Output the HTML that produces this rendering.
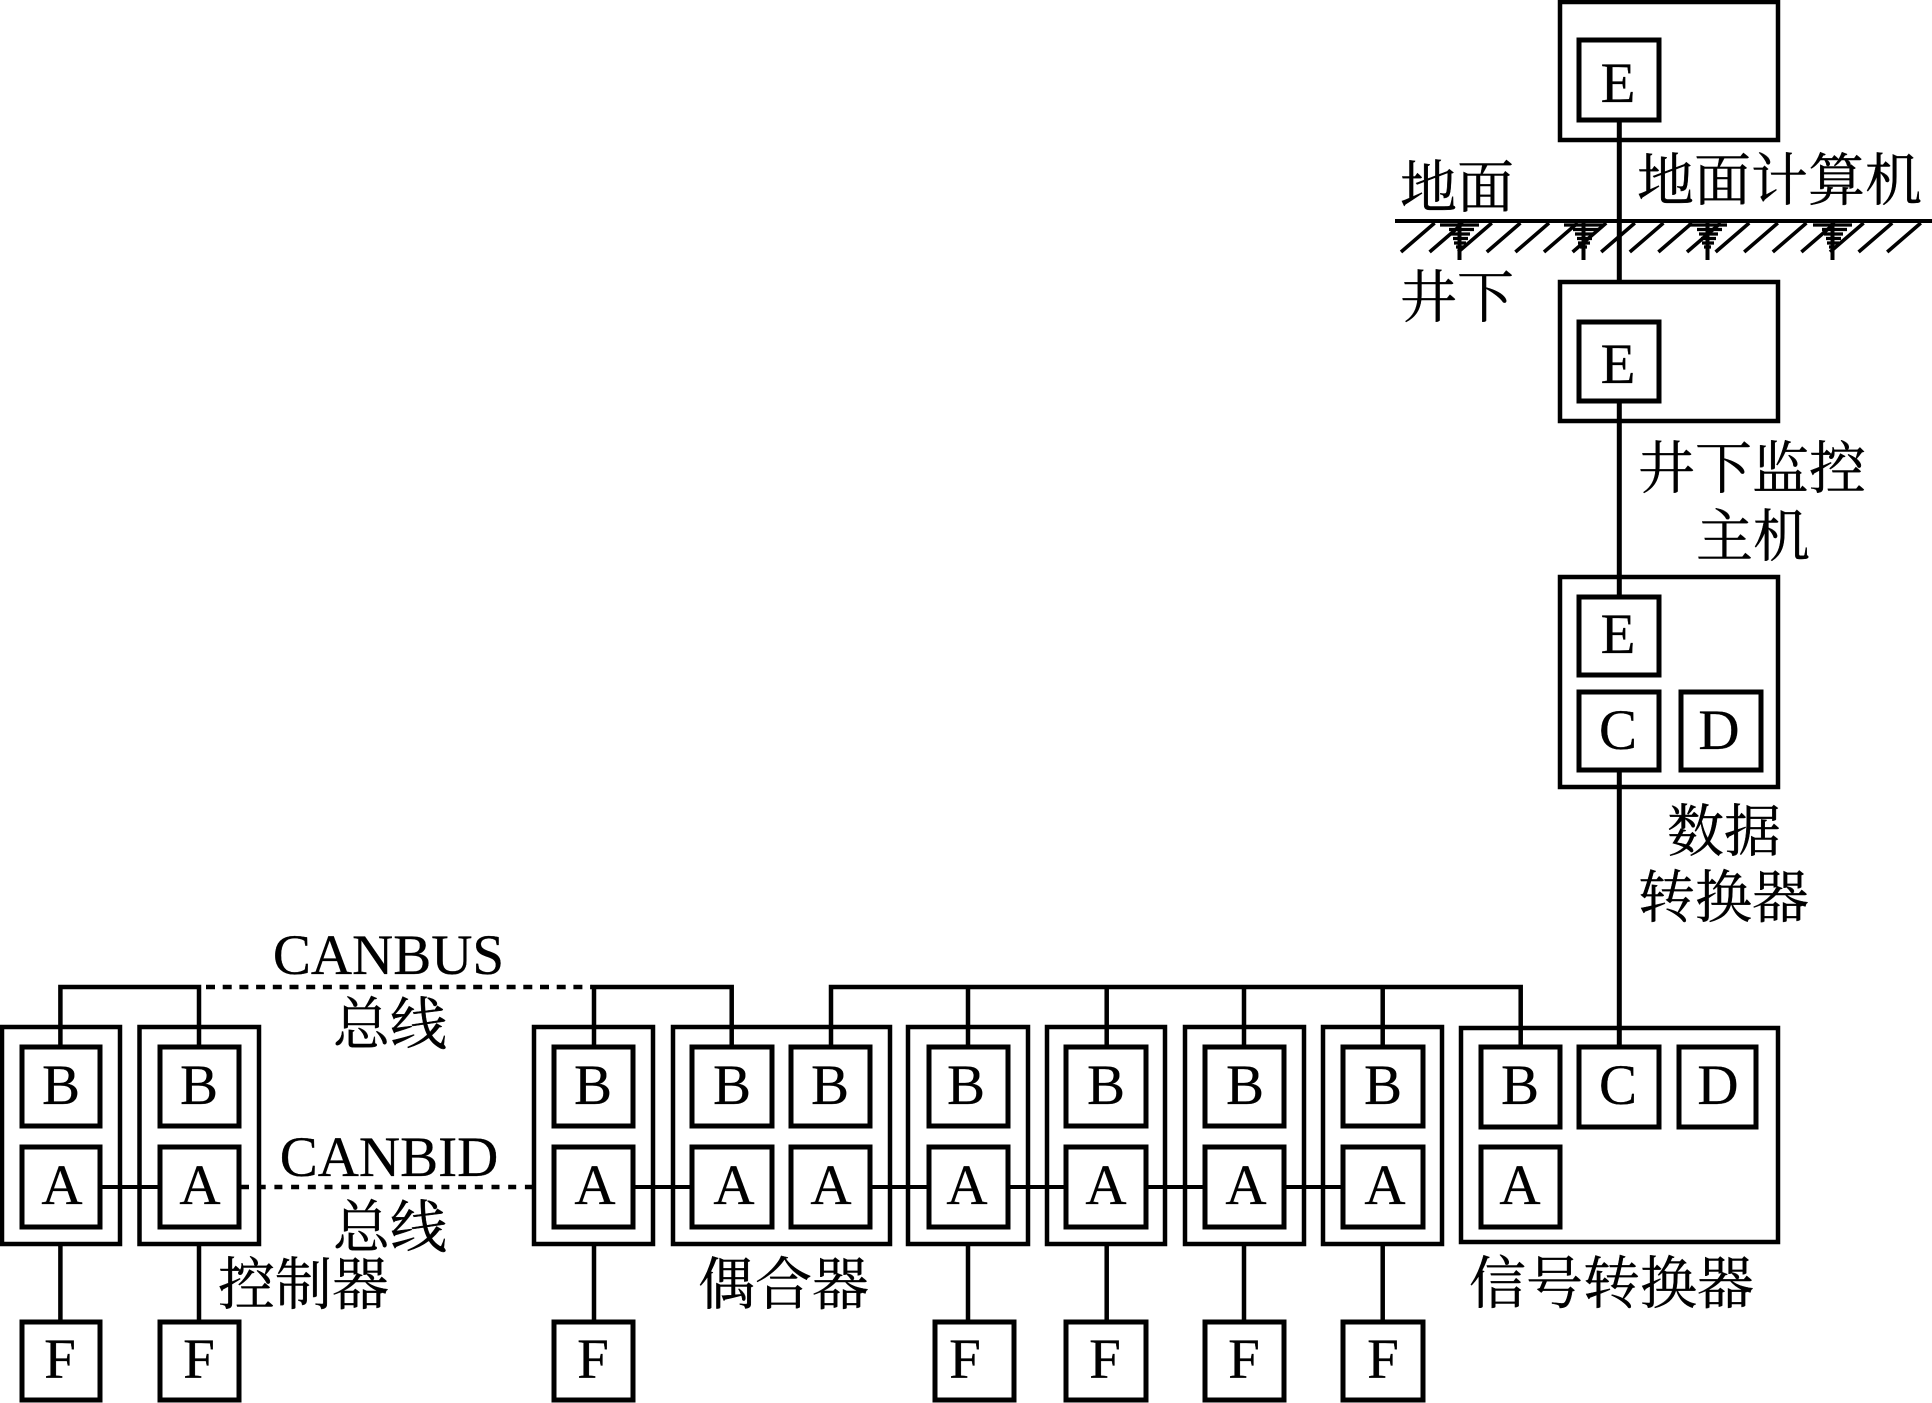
<!DOCTYPE html>
<html lang="zh">
<head>
<meta charset="utf-8">
<title>CAN bus diagram</title>
<style>
html,body{margin:0;padding:0;background:#fff;width:1932px;height:1403px;overflow:hidden}
svg{display:block}
.l{font-family:"Liberation Serif",serif;font-size:57px;text-anchor:middle;fill:#000;stroke:#000;stroke-width:.3}
.z{font-family:"Liberation Serif","Noto Serif CJK SC",serif;font-size:57px;fill:#000;stroke:#000;stroke-width:.4}
.b{fill:none;stroke:#000;stroke-width:4.5}
.c{fill:none;stroke:#000;stroke-width:5}
</style>
</head>
<body>
<svg xmlns="http://www.w3.org/2000/svg" width="1932" height="1403" viewBox="0 0 1932 1403">
<rect width="1932" height="1403" fill="#fff"/>

<!-- ground -->
<path fill="none" stroke="#000" stroke-width="4" d="M1395 221H1932"/>
<path fill="none" stroke="#000" stroke-width="3.6" d="M1401 252L1434.6 223M1429.6 252L1463.2 223M1458.2 252L1491.8 223M1486.8 252L1520.4 223M1515.4 252L1549 223M1544 252L1577.6 223M1572.6 252L1606.2 223M1601.2 252L1634.8 223M1629.8 252L1663.4 223M1658.4 252L1692 223M1687 252L1720.6 223M1715.6 252L1749.2 223M1744.2 252L1777.8 223M1772.8 252L1806.4 223M1801.4 252L1835 223M1830 252L1863.6 223M1858.6 252L1892.2 223M1887.2 252L1920.8 223"/>
<path fill="none" stroke="#000" stroke-width="3.2" d="M1440 225H1479M1449 229.5H1474M1451 234H1470M1453 238.5H1468M1454 243H1466M1456 247H1463"/>
<path fill="none" stroke="#000" stroke-width="4" d="M1459.5 223V260"/>
<g transform="translate(124 0)">
<path fill="none" stroke="#000" stroke-width="3.2" d="M1440 225H1479M1449 229.5H1474M1451 234H1470M1453 238.5H1468M1454 243H1466M1456 247H1463"/>
<path fill="none" stroke="#000" stroke-width="4" d="M1459.5 223V260"/>
</g>
<g transform="translate(248 0)">
<path fill="none" stroke="#000" stroke-width="3.2" d="M1440 225H1479M1449 229.5H1474M1451 234H1470M1453 238.5H1468M1454 243H1466M1456 247H1463"/>
<path fill="none" stroke="#000" stroke-width="4" d="M1459.5 223V260"/>
</g>
<g transform="translate(373 0)">
<path fill="none" stroke="#000" stroke-width="3.2" d="M1440 225H1479M1449 229.5H1474M1451 234H1470M1453 238.5H1468M1454 243H1466M1456 247H1463"/>
<path fill="none" stroke="#000" stroke-width="4" d="M1459.5 223V260"/>
</g>

<!-- right column boxes -->
<rect class="b" x="1560" y="2" width="218" height="138"/>
<rect class="c" x="1579" y="40" width="80" height="80"/>
<rect class="b" x="1560" y="282" width="218" height="139"/>
<rect class="c" x="1579" y="322" width="80" height="79"/>
<rect class="b" x="1560" y="577" width="218" height="210"/>
<rect class="c" x="1579" y="597" width="80" height="78"/>
<rect class="c" x="1579" y="692" width="80" height="78"/>
<rect class="c" x="1681" y="692" width="80" height="78"/>

<!-- vertical trunk -->
<path fill="none" stroke="#000" stroke-width="5" d="M1619.3 122V280M1619.3 403V595M1619.3 772V1045"/>

<!-- bottom outer boxes -->
<rect class="b" x="2" y="1027" width="118" height="217"/>
<rect class="b" x="139.5" y="1027" width="119.5" height="217"/>
<rect class="b" x="534" y="1027" width="119" height="217"/>
<rect class="b" x="673" y="1027" width="217" height="217"/>
<rect class="b" x="908" y="1027" width="120" height="217"/>
<rect class="b" x="1047" y="1027" width="118" height="217"/>
<rect class="b" x="1185" y="1027" width="119" height="217"/>
<rect class="b" x="1323" y="1027" width="119" height="217"/>
<rect class="b" x="1461" y="1028" width="317" height="214"/>

<!-- B boxes -->
<rect class="c" x="22" y="1047" width="78" height="79"/>
<rect class="c" x="160" y="1047" width="79" height="79"/>
<rect class="c" x="554" y="1047" width="79" height="79"/>
<rect class="c" x="692" y="1047" width="80" height="79"/>
<rect class="c" x="791" y="1047" width="79" height="79"/>
<rect class="c" x="929" y="1047" width="79" height="79"/>
<rect class="c" x="1066" y="1047" width="80" height="79"/>
<rect class="c" x="1205" y="1047" width="79" height="79"/>
<rect class="c" x="1343" y="1047" width="80" height="79"/>
<rect class="c" x="1481" y="1047" width="79" height="80"/>
<rect class="c" x="1579" y="1047" width="80" height="80"/>
<rect class="c" x="1679" y="1047" width="77" height="80"/>

<!-- A boxes -->
<rect class="c" x="22" y="1147" width="78" height="80"/>
<rect class="c" x="160" y="1147" width="79" height="80"/>
<rect class="c" x="554" y="1147" width="79" height="80"/>
<rect class="c" x="692" y="1147" width="80" height="80"/>
<rect class="c" x="791" y="1147" width="79" height="80"/>
<rect class="c" x="929" y="1147" width="79" height="80"/>
<rect class="c" x="1066" y="1147" width="80" height="80"/>
<rect class="c" x="1205" y="1147" width="79" height="80"/>
<rect class="c" x="1343" y="1147" width="80" height="80"/>
<rect class="c" x="1481" y="1147" width="79" height="80"/>

<!-- F boxes -->
<rect class="c" x="22" y="1322" width="78" height="78"/>
<rect class="c" x="160" y="1322" width="79" height="78"/>
<rect class="c" x="554" y="1322" width="79" height="78"/>
<rect class="c" x="935" y="1322" width="79" height="78"/>
<rect class="c" x="1066" y="1322" width="80" height="78"/>
<rect class="c" x="1205" y="1322" width="79" height="78"/>
<rect class="c" x="1343" y="1322" width="80" height="78"/>

<!-- CANBUS lines -->
<path fill="none" stroke="#000" stroke-width="4.5" d="M60.4 1045V987H199V1045M594 1045V987H731.7V1045M831 1045V987H1520.7V1045M968 987V1045M1106.7 987V1045M1244 987V1045M1382.7 987V1045"/>
<path fill="none" stroke="#000" stroke-width="4.5" stroke-dasharray="9 7.7" d="M206 987H592"/>

<!-- CANBID lines -->
<path fill="none" stroke="#000" stroke-width="4" d="M102 1187H158M635 1187H690M872 1187H927M1010 1187H1064M1148 1187H1203M1286 1187H1341"/>
<path fill="none" stroke="#000" stroke-width="4.5" stroke-dasharray="8 8.7" d="M241 1187H533"/>

<!-- F connectors -->
<path fill="none" stroke="#000" stroke-width="4.5" d="M60.4 1245V1320M199 1245V1320M594 1245V1320M968 1245V1320M1106.7 1245V1320M1244 1245V1320M1382.7 1245V1320"/>

<!-- box letters -->
<text class="l" x="1618" y="102">E</text>
<text class="l" x="1618" y="383">E</text>
<text class="l" x="1618" y="653">E</text>
<text class="l" x="1618" y="749">C</text>
<text class="l" x="1719" y="749">D</text>

<text class="l" x="61" y="1104">B</text>
<text class="l" x="199" y="1104">B</text>
<text class="l" x="593" y="1104">B</text>
<text class="l" x="732" y="1104">B</text>
<text class="l" x="830" y="1104">B</text>
<text class="l" x="966" y="1104">B</text>
<text class="l" x="1106" y="1104">B</text>
<text class="l" x="1245" y="1104">B</text>
<text class="l" x="1383" y="1104">B</text>
<text class="l" x="1520" y="1104">B</text>
<text class="l" x="1618" y="1104">C</text>
<text class="l" x="1718" y="1104">D</text>

<text class="l" x="62" y="1204">A</text>
<text class="l" x="200" y="1204">A</text>
<text class="l" x="595" y="1204">A</text>
<text class="l" x="734" y="1204">A</text>
<text class="l" x="831" y="1204">A</text>
<text class="l" x="967" y="1204">A</text>
<text class="l" x="1106" y="1204">A</text>
<text class="l" x="1246" y="1204">A</text>
<text class="l" x="1385" y="1204">A</text>
<text class="l" x="1520" y="1204">A</text>

<text class="l" x="60" y="1378">F</text>
<text class="l" x="199" y="1378">F</text>
<text class="l" x="593" y="1378">F</text>
<text class="l" x="965" y="1378">F</text>
<text class="l" x="1105" y="1378">F</text>
<text class="l" x="1244" y="1378">F</text>
<text class="l" x="1383" y="1378">F</text>

<!-- labels -->
<text class="z" x="1400" y="207">地面</text>
<text class="z" x="1400" y="317">井下</text>
<text class="z" x="1637" y="200">地面计算机</text>
<text class="z" x="1638" y="488">井下监控</text>
<text class="z" x="1696" y="556">主机</text>
<text class="z" x="1667" y="851">数据</text>
<text class="z" x="1638" y="917">转换器</text>
<text class="l" x="388.5" y="974">CANBUS</text>
<text class="z" x="333" y="1044">总线</text>
<text class="l" x="389" y="1176">CANBID</text>
<text class="z" x="333" y="1247">总线</text>
<text class="z" x="218" y="1304">控制器</text>
<text class="z" x="698" y="1304">偶合器</text>
<text class="z" x="1469" y="1303">信号转换器</text>
</svg>
</body>
</html>
